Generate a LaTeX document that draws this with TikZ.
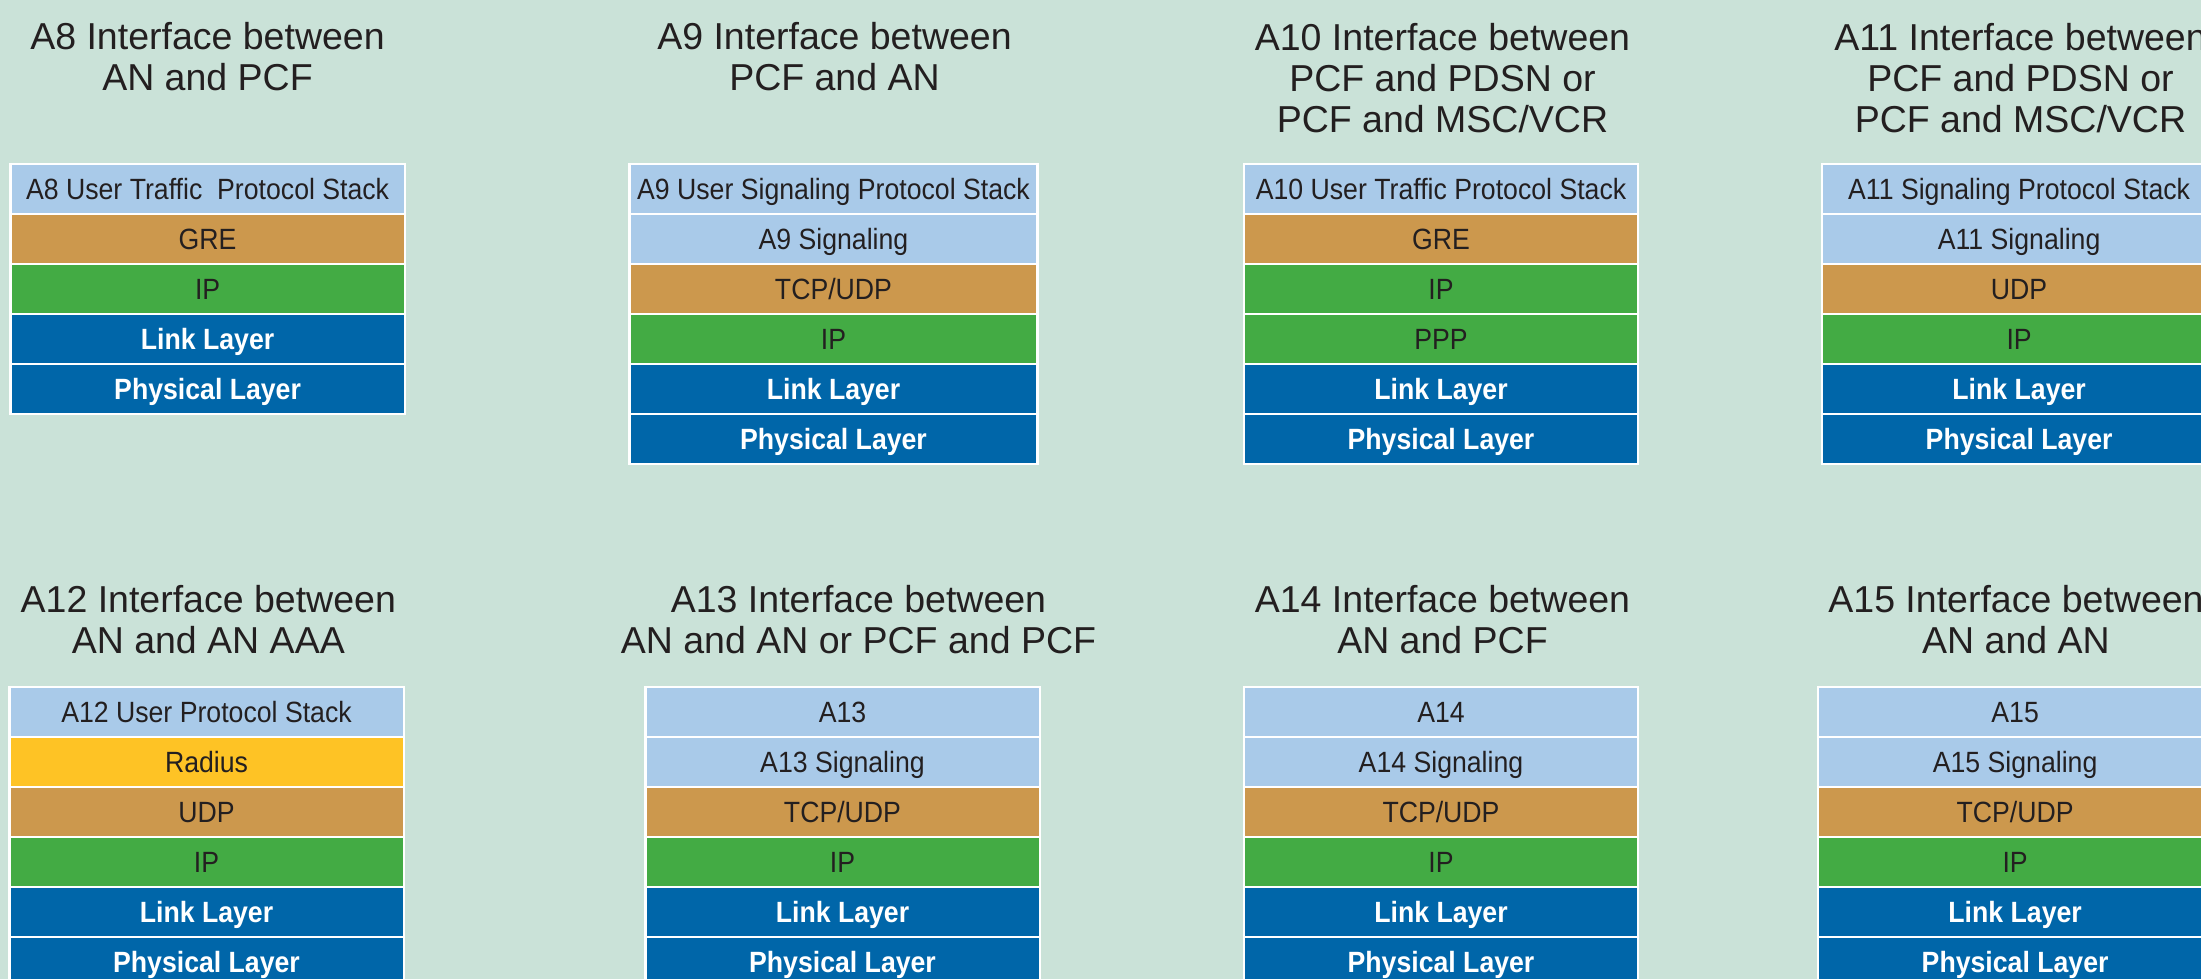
\documentclass[tikz,border=0pt]{standalone}
\usepackage{fontspec}
\setmainfont{Liberation Sans}
\newfontfamily\layerfont[FakeStretch=0.91]{Liberation Sans}
\usetikzlibrary{positioning}

\definecolor{bgmint}{HTML}{CAE2D8}
\definecolor{sky}{HTML}{A9CAE9}
\definecolor{tan}{HTML}{CC984D}
\definecolor{leaf}{HTML}{43AB44}
\definecolor{navy}{HTML}{0066A9}
\definecolor{sun}{HTML}{FEC325}
\definecolor{ink}{HTML}{231F20}

\tikzset{
  lay/.style={draw=white, line width=2.3pt, outer sep=0pt, inner sep=0pt,
    minimum height=50pt, text height=21pt, text depth=0pt, text=ink,
    font=\layerfont\fontsize{29.3}{35}\selectfont},
  wd/.style={minimum width=394.3pt},
  wdx/.style={minimum width=408pt},
  sigl/.style={lay, fill=sky},
  transl/.style={lay, fill=tan},
  netl/.style={lay, fill=leaf},
  aaal/.style={lay, fill=sun},
  phyl/.style={lay, fill=navy, text=white,
    font=\layerfont\bfseries\fontsize{29.3}{35}\selectfont},
  % headings are placed by the baseline of their last line
  heading/.style={align=center, text=ink, inner sep=0pt, anchor=base,
    font=\fontsize{37.5}{41}\selectfont},
}

\begin{document}
\begin{tikzpicture}[x=1pt, y=-1pt]
\useasboundingbox (0,0) rectangle (2201,979);
\clip (0,0) rectangle (2201,979);
\fill[bgmint] (0,0) rectangle (2201,979);

% ---------- headings ----------
\node[heading] (h8)  at (207.5,91)    {A8 Interface between\\AN and PCF};
\node[heading] (h9)  at (834.5,91)    {A9 Interface between\\PCF and AN};
\node[heading] (h10) at (1442.5,132.3) {A10 Interface between\\PCF and PDSN or\\PCF and MSC/VCR};
\node[heading] (h11) at (2020.5,132.3) {A11 Interface between\\PCF and PDSN or\\PCF and MSC/VCR};
\node[heading] (h12) at (208.3,653.3) {A12 Interface between\\AN and AN AAA};
\node[heading] (h13) at (858.5,653.3) {A13 Interface between\\AN and AN or PCF and PCF};
\node[heading] (h14) at (1442.5,653.3) {A14 Interface between\\AN and PCF};
\node[heading] (h15) at (2016,653.3)  {A15 Interface between\\AN and AN};

% ---------- A8 stack ----------
\node[sigl, wd, anchor=north] (a8a) at (207.6,163.8) {A8 User Traffic~~Protocol Stack};
\node[transl, wd, below=0pt of a8a] (a8b) {GRE};
\node[netl, wd, below=0pt of a8b] (a8c) {IP};
\node[phyl, wd, below=0pt of a8c] (a8d) {Link Layer};
\node[phyl, wd, below=0pt of a8d] (a8e) {Physical Layer};

% ---------- A9 stack ----------
\node[sigl, wdx, anchor=north] (a9a) at (833.5,163.8) {A9 User Signaling Protocol Stack};
\node[sigl, wdx, below=0pt of a9a] (a9b) {A9 Signaling};
\node[transl, wdx, below=0pt of a9b] (a9c) {TCP/UDP};
\node[netl, wdx, below=0pt of a9c] (a9d) {IP};
\node[phyl, wdx, below=0pt of a9d] (a9e) {Link Layer};
\node[phyl, wdx, below=0pt of a9e] (a9f) {Physical Layer};

% ---------- A10 stack ----------
\node[sigl, wd, anchor=north] (a10a) at (1441,163.8) {A10 User Traffic Protocol Stack};
\node[transl, wd, below=0pt of a10a] (a10b) {GRE};
\node[netl, wd, below=0pt of a10b] (a10c) {IP};
\node[netl, wd, below=0pt of a10c] (a10d) {PPP};
\node[phyl, wd, below=0pt of a10d] (a10e) {Link Layer};
\node[phyl, wd, below=0pt of a10e] (a10f) {Physical Layer};

% ---------- A11 stack ----------
\node[sigl, wd, anchor=north] (a11a) at (2019.1,163.8) {A11 Signaling Protocol Stack};
\node[sigl, wd, below=0pt of a11a] (a11b) {A11 Signaling};
\node[transl, wd, below=0pt of a11b] (a11c) {UDP};
\node[netl, wd, below=0pt of a11c] (a11d) {IP};
\node[phyl, wd, below=0pt of a11d] (a11e) {Link Layer};
\node[phyl, wd, below=0pt of a11e] (a11f) {Physical Layer};

% ---------- A12 stack ----------
\node[sigl, wd, anchor=north] (a12a) at (206.5,687.2) {A12 User Protocol Stack};
\node[aaal, wd, below=0pt of a12a] (a12b) {Radius};
\node[transl, wd, below=0pt of a12b] (a12c) {UDP};
\node[netl, wd, below=0pt of a12c] (a12d) {IP};
\node[phyl, wd, below=0pt of a12d] (a12e) {Link Layer};
\node[phyl, wd, below=0pt of a12e] (a12f) {Physical Layer};

% ---------- A13 stack ----------
\node[sigl, wd, anchor=north] (a13a) at (842.5,687.2) {A13};
\node[sigl, wd, below=0pt of a13a] (a13b) {A13 Signaling};
\node[transl, wd, below=0pt of a13b] (a13c) {TCP/UDP};
\node[netl, wd, below=0pt of a13c] (a13d) {IP};
\node[phyl, wd, below=0pt of a13d] (a13e) {Link Layer};
\node[phyl, wd, below=0pt of a13e] (a13f) {Physical Layer};

% ---------- A14 stack ----------
\node[sigl, wd, anchor=north] (a14a) at (1441,687.2) {A14};
\node[sigl, wd, below=0pt of a14a] (a14b) {A14 Signaling};
\node[transl, wd, below=0pt of a14b] (a14c) {TCP/UDP};
\node[netl, wd, below=0pt of a14c] (a14d) {IP};
\node[phyl, wd, below=0pt of a14d] (a14e) {Link Layer};
\node[phyl, wd, below=0pt of a14e] (a14f) {Physical Layer};

% ---------- A15 stack ----------
\node[sigl, wd, anchor=north] (a15a) at (2015.1,687.2) {A15};
\node[sigl, wd, below=0pt of a15a] (a15b) {A15 Signaling};
\node[transl, wd, below=0pt of a15b] (a15c) {TCP/UDP};
\node[netl, wd, below=0pt of a15c] (a15d) {IP};
\node[phyl, wd, below=0pt of a15d] (a15e) {Link Layer};
\node[phyl, wd, below=0pt of a15e] (a15f) {Physical Layer};
\end{tikzpicture}
\end{document}
